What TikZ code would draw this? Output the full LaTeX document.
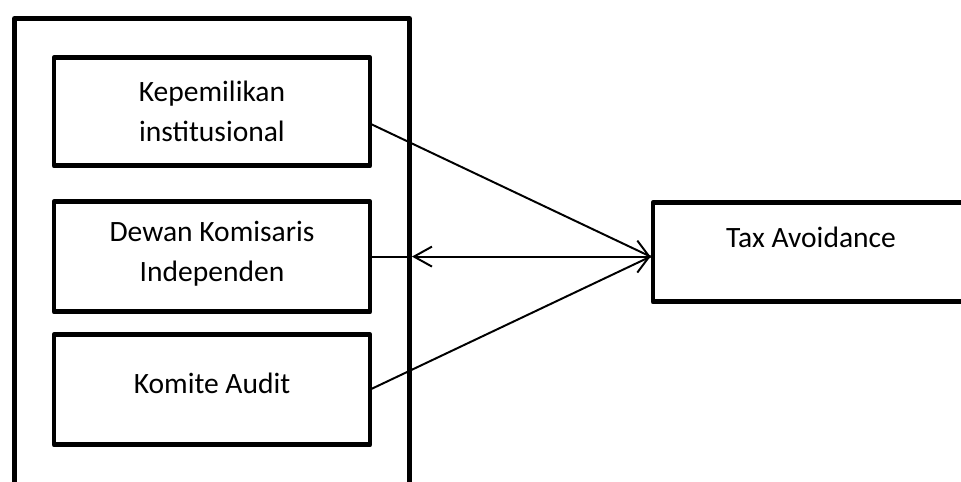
\documentclass[tikz,border=0pt]{standalone}
\usepackage{fontspec}
\setmainfont{Carlito}
\usetikzlibrary{arrows.meta,positioning}

\begin{document}
\begin{tikzpicture}[
  font=\fontsize{21}{28.5}\selectfont,
  grpbox/.style={rectangle, draw, line width=3.5pt, line join=round, minimum width=9.875cm, minimum height=12.5cm, anchor=north west},
  var/.style={rectangle, draw, line width=3.5pt, line join=round, outer sep=0pt, minimum width=7.9cm, minimum height=2.75cm, align=center},
  link/.style={line width=1.4pt},
  arr/.style={{Straight Barb[length=4.5mm,width=5mm]}-{Straight Barb[length=3mm,width=8mm]}, line width=1.4pt}
]
  \useasboundingbox (0,0) rectangle (24.025,-12.05);
  \clip (0,0) rectangle (24.025,-12.05);
  \node[grpbox] (grp) at (0.3,-0.4) {};
  \node[var, minimum height=2.7cm] (kep) at (5.3,-2.79) {Kepemilikan\\institusional};
  \node[var, below=0.9cm of kep, text depth=0.25cm] (dk) {Dewan Komisaris\\Independen};
  \node[var, below=0.575cm of dk, text depth=0.3cm] (ka) {Komite Audit};
  \node[var, minimum height=2.475cm, text depth=0.75cm] (tax) at (20.275,-6.31) {Tax Avoidance};
  \coordinate (tin) at ([xshift=-1.75pt]tax.west |- dk.east);
  \draw[link] ([yshift=-0.3cm]kep.east) -- (tin);
  \draw[link] (dk.east) -- (grp.east |- dk.east);
  \draw[arr] (grp.east |- dk.east) -- (tin);
  \draw[link] (ka.east) -- (tin);
\end{tikzpicture}
\end{document}
